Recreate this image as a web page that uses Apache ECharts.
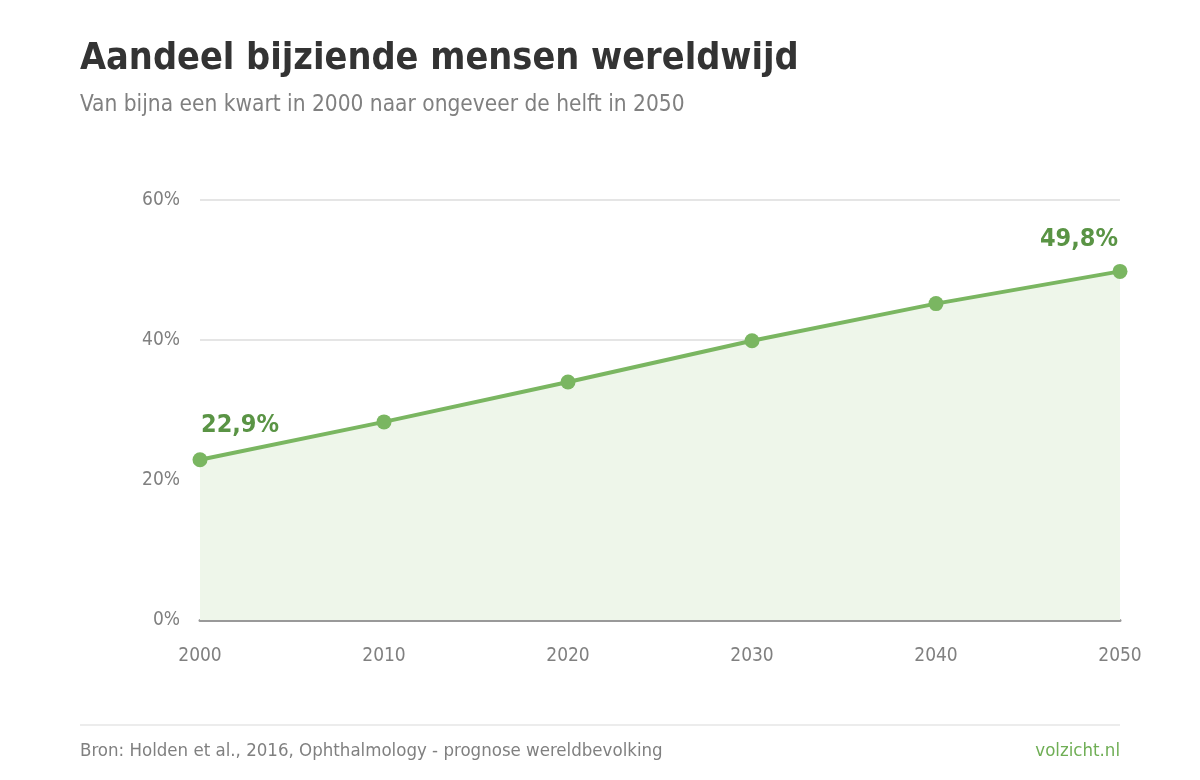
<!DOCTYPE html>
<html>
<head>
<meta charset="utf-8">
<script src="https://cdn.jsdelivr.net/npm/echarts@6/dist/echarts.min.js"></script>
<style>
  html, body { margin: 0; padding: 0; background: #fff; }
  #chart { width: 1200px; height: 780px; }
</style>
</head>
<body>
<div id="chart"></div>
<script>
// jaartallen en aandeel bijziende mensen (%)
var years = ['2000', '2010', '2020', '2030', '2040', '2050'];
var share = [22.9, 28.3, 34.0, 39.9, 45.2, 49.8];
var yTicks = [0, 20, 40, 60];

var FONT = '"DejaVu Sans Condensed", "DejaVu Sans", sans-serif';
var lineGreen = '#7ab661';
var labelGreen = '#5a9445';

function pct(v) {
    return v.toFixed(1).replace('.', ',') + '%';
}

var chart = echarts.init(document.getElementById('chart'));

// alleen eerste en laatste punt krijgen een label
var points = share.map(function (v, i) {
    var item = { value: v };
    if (i === 0 || i === share.length - 1) {
        item.label = {
            show: true,
            position: 'top',
            distance: i === 0 ? 14 : 12,
            align: i === 0 ? 'left' : 'right',
            offset: [i === 0 ? 1 : -2, 0],
            formatter: function (p) { return pct(p.value); },
            fontFamily: FONT,
            fontWeight: 'bold',
            fontSize: 25,
            color: labelGreen
        };
    }
    return item;
});

chart.setOption({
    animation: false,
    title: [{
        text: 'Aandeel bijziende mensen wereldwijd',
        left: 80,
        top: 40,
        padding: 0,
        textStyle: { fontFamily: FONT, fontWeight: 'bold', fontSize: 37.5, color: '#333' }
    }, {
        text: 'Van bijna een kwart in 2000 naar ongeveer de helft in 2050',
        left: 80,
        top: 94,
        padding: 0,
        textStyle: { fontFamily: FONT, fontWeight: 'normal', fontSize: 22.5, color: '#808080' }
    }, {
        text: 'Bron: Holden et al., 2016, Ophthalmology - prognose wereldbevolking',
        left: 80,
        top: 742,
        padding: 0,
        textStyle: { fontFamily: FONT, fontWeight: 'normal', fontSize: 18.5, color: '#808080' }
    }, {
        text: 'volzicht.nl',
        right: 80,
        top: 742,
        padding: 0,
        textStyle: { fontFamily: FONT, fontWeight: 'normal', fontSize: 18.5, color: '#6fae55' }
    }],
    graphic: [{
        type: 'rect',
        shape: { x: 80, y: 724, width: 1040, height: 2 },
        style: { fill: '#ececec' }
    }],
    grid: { left: 200, right: 80, top: 200, bottom: 160 },
    xAxis: {
        type: 'category',
        data: years,
        boundaryGap: false,
        axisLine: { lineStyle: { color: '#999', width: 3 } },
        axisTick: { show: false },
        axisLabel: { fontFamily: FONT, fontSize: 19, color: '#808080', margin: 27 }
    },
    yAxis: {
        type: 'value',
        min: yTicks[0],
        max: yTicks[yTicks.length - 1],
        interval: 20,
        axisLine: { show: false },
        axisTick: { show: false },
        splitLine: { lineStyle: { color: '#e5e5e5', width: 2 } },
        axisLabel: {
            fontFamily: FONT, fontSize: 19, color: '#808080', margin: 20,
            formatter: function (v) { return v + '%'; }
        }
    },
    series: [{
        type: 'line',
        data: points,
        symbol: 'circle',
        symbolSize: 15,
        itemStyle: { color: lineGreen },
        lineStyle: { color: lineGreen, width: 4 },
        areaStyle: { color: '#eef6ea', opacity: 1 },
        z: 3
    }]
});
</script>
</body>
</html>
